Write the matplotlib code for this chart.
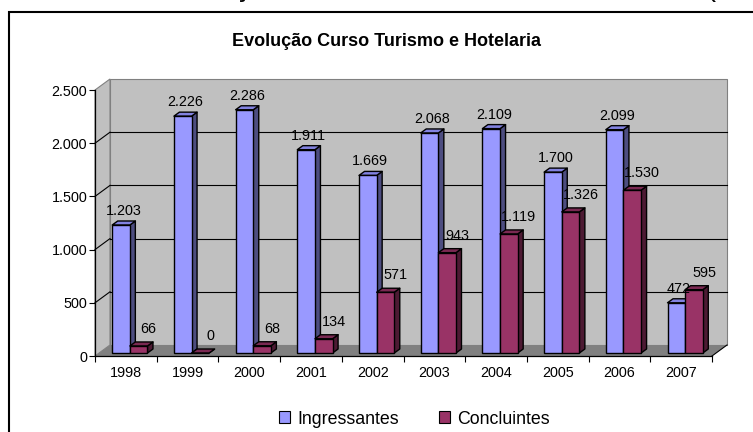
import numpy as np
import matplotlib.pyplot as plt
from matplotlib.patches import Polygon, Rectangle, Patch
from matplotlib.collections import PolyCollection

plt.rcParams['font.family'] = ['Liberation Sans', 'DejaVu Sans']

# data
anos = ['1998', '1999', '2000', '2001', '2002', '2003', '2004', '2005', '2006', '2007']
ingressantes = [1203, 2226, 2286, 1911, 1669, 2068, 2109, 1700, 2099, 472]
concluintes = [66, 0, 68, 134, 571, 943, 1119, 1326, 1530, 595]
y_ticks = [0, 500, 1000, 1500, 2000, 2500]
series_names = ['Ingressantes', 'Concluintes']

W, H = 753, 432
fig = plt.figure(figsize=(W / 100, H / 100), dpi=100)

# front plane of the 3d box (pixels): x 95..712, y 90..356
ax = fig.add_axes([95 / W, 1 - 356 / H, 617 / W, 266 / H])
n = len(anos)
ymax = y_ticks[-1]
ax.set_xlim(0, n)
ax.set_ylim(0, ymax)
ax.patch.set_visible(False)

# pixel -> data units, for the oblique depth
px = n / 617
py = ymax / 266
DX, DY = 15 * px, 11 * py      # full depth of the box
fx, fy = 4 * px, 3 * py        # front face of the bars
bx, by = 9.5 * px, 7 * py      # back face of the bars

# walls and floor
ax.add_patch(Rectangle((DX, DY), n, ymax, fc='#c0c0c0', ec='#808080', lw=0.8,
                       clip_on=False, zorder=0))
ax.add_patch(Polygon([(0, 0), (DX, DY), (DX, ymax + DY), (0, ymax)], fc='#c0c0c0',
                     ec='#808080', lw=0.8, clip_on=False, zorder=0))
ax.add_patch(Polygon([(0, 0), (DX, DY), (n + DX, DY), (n, 0)], fc='#808080', ec='none',
                     clip_on=False, zorder=0.5))
for t in y_ticks[1:-1]:
    ax.plot([DX, n + DX], [t + DY, t + DY], color='black', lw=0.8, zorder=0.6, clip_on=False)
    ax.plot([0, DX], [t, t + DY], color='black', lw=0.8, zorder=0.6, clip_on=False)
ax.plot([n, n + DX], [0, DY], color='black', lw=0.8, zorder=0.6, clip_on=False)

# 3d bars
w = 1 / 3.5
x = np.arange(n)
colors = [('#9999ff', '#8282e0', '#4d4d80'), ('#993366', '#7a2952', '#4d1a33')]
label_off = [(2.5, 10), (10, 13)]  # pixels right / above the bar top
for s, vals in enumerate([ingressantes, concluintes]):
    vals = np.array(vals, dtype=float)
    x0 = x + 0.5 - w + s * w
    cf, ct, cs = colors[s]
    z = 2 + s
    tops = [[(a + fx, v + fy), (a + w + fx, v + fy), (a + w + bx, v + by), (a + bx, v + by)]
            for a, v in zip(x0, vals)]
    sides = [[(a + w + fx, fy), (a + w + bx, by), (a + w + bx, v + by), (a + w + fx, v + fy)]
             for a, v in zip(x0, vals)]
    ax.add_collection(PolyCollection(sides, facecolors=cs, edgecolors='black', linewidths=1,
                                     zorder=z, clip_on=False))
    ax.add_collection(PolyCollection(tops, facecolors=ct, edgecolors='black', linewidths=1,
                                     zorder=z, clip_on=False))
    ax.bar(x0 + fx, vals, width=w, bottom=fy, align='edge', color=cf, edgecolor='black',
           linewidth=1, zorder=z + 0.5, clip_on=False)
    ox, oy = label_off[s]
    for a, v in zip(x0, vals):
        ax.annotate(f'{int(v):,}'.replace(',', '.'), (a + fx + w / 2, v + fy),
                    xytext=(ox * 0.72, oy * 0.72), textcoords='offset points',
                    ha='center', va='baseline', fontsize=10.4, zorder=5,
                    annotation_clip=False)

# axes lines and ticks
for side in ['top', 'right']:
    ax.spines[side].set_visible(False)
for side in ['left', 'bottom']:
    ax.spines[side].set_color('black')
    ax.spines[side].set_linewidth(0.9)
    ax.spines[side].set_zorder(6)
ax.set_yticks(y_ticks)
ax.set_yticklabels([f'{t:,}'.replace(',', '.') for t in y_ticks])
ax.tick_params(axis='y', direction='out', length=4.1, width=0.8, pad=1.5, labelsize=10.4)
ax.set_xticks(np.arange(n + 1))
ax.set_xticklabels([])
ax.set_xticks(x + 0.5, minor=True)
ax.set_xticklabels(anos, minor=True)
ax.tick_params(axis='x', which='major', direction='out', length=4.3, width=0.8)
ax.tick_params(axis='x', which='minor', length=0, pad=7, labelsize=10.4)

# titles (the caption above the box is cut off by the top edge, as in the source)
fig.text(386 / W, 1 - 46 / H, 'Evolução Curso Turismo e Hotelaria', ha='center',
         va='baseline', fontsize=13, fontweight='bold')
fig.text(16 / W, 1 + 3.5 / H, 'Gráfico 3 – Evolução do Curso de Turismo e Hotelaria (1998-2007)',
         ha='left', va='baseline', fontsize=20.5)

# legend
handles = [Patch(fc=colors[0][0], ec='black', lw=0.8), Patch(fc=colors[1][0], ec='black', lw=0.8)]
fig.legend(handles, series_names, loc='center', bbox_to_anchor=(414.5 / W, 1 - 419 / H),
           ncol=2, frameon=False, fontsize=12.8, handlelength=0.62, handleheight=0.62,
           handletextpad=0.4, columnspacing=2.3)

# border of the chart area
fig.add_artist(Rectangle((9 / W, -0.05), 1.2, 1 - 12 / H + 0.05, transform=fig.transFigure,
                         fill=False, ec='black', lw=1.5))

fig.savefig('out.png', dpi=100)
